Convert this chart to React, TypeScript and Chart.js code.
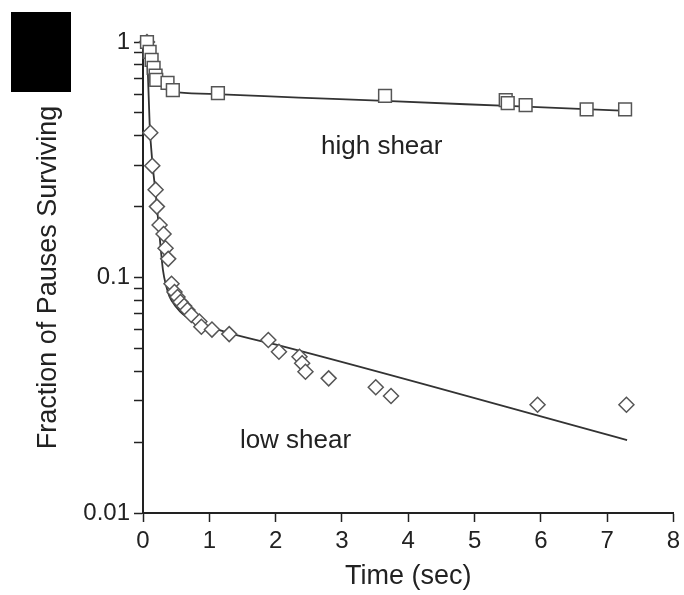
import React, { useEffect, useRef } from "react";
import { Chart, registerables } from "chart.js";

Chart.register(...registerables);

// ---- data ----
const highShearTime = [0.06, 0.1, 0.13, 0.16, 0.19, 0.2, 0.37, 0.45, 1.13, 3.65, 5.47, 5.5, 5.77, 6.69, 7.27];
const highShearFraction = [1.0, 0.907, 0.84, 0.776, 0.72, 0.69, 0.67, 0.625, 0.607, 0.59, 0.567, 0.55, 0.54, 0.518, 0.518];

const lowShearTime = [
  0.06, 0.11, 0.14, 0.19, 0.21, 0.25, 0.31, 0.34, 0.38, 0.43, 0.475, 0.52, 0.565, 0.62, 0.67,
  0.73, 0.85, 0.88, 1.04, 1.3, 1.89, 2.05, 2.36, 2.4, 2.45, 2.8, 3.51, 3.74, 5.95, 7.29,
];
const lowShearFraction = [
  1.0, 0.412, 0.298, 0.236, 0.2, 0.167, 0.153, 0.133, 0.12, 0.094, 0.0868, 0.0826, 0.0787, 0.0757, 0.0728,
  0.0693, 0.065, 0.0618, 0.0601, 0.0575, 0.0543, 0.0484, 0.0461, 0.0432, 0.0398, 0.0373, 0.0342, 0.0314, 0.0288, 0.0288,
];

const highFitTime = [0.06, 0.1, 0.15, 0.2, 0.3, 0.45, 1.0, 2.35, 3.65, 5.5, 7.3];
const highFitFraction = [1.0, 0.88, 0.76, 0.69, 0.64, 0.615, 0.602, 0.581, 0.562, 0.535, 0.51];

const lowFitTime = [0.06, 0.1, 0.145, 0.19, 0.25, 0.3, 0.35, 0.4, 0.5, 0.6, 0.8, 1.0, 1.3, 2.05, 7.3];
const lowFitFraction = [0.97, 0.45, 0.3, 0.23, 0.15, 0.108, 0.092, 0.083, 0.075, 0.07, 0.065, 0.062, 0.058, 0.0515, 0.0204];

const xTicks = [0, 1, 2, 3, 4, 5, 6, 7, 8];
const yMajorTicks = [0.01, 0.1, 1];
const yMinorTicks = [0.02, 0.03, 0.04, 0.05, 0.06, 0.07, 0.08, 0.09, 0.2, 0.3, 0.4, 0.5, 0.6, 0.7, 0.8, 0.9];

const labelTexts = ["high shear", "low shear"];
const labelTimes = [3.6, 2.3];
const labelFractions = [0.36, 0.0202];

const FONT = '"Liberation Sans", Arial, Helvetica, sans-serif';
const INK = "#222";

const shearLabels = {
  id: "shearLabels",
  afterDatasetsDraw(chart: any) {
    const { ctx, scales } = chart;
    ctx.save();
    ctx.font = `26px ${FONT}`;
    ctx.fillStyle = INK;
    ctx.textAlign = "center";
    ctx.textBaseline = "middle";
    labelTexts.forEach((t, i) => {
      ctx.fillText(t, scales.x.getPixelForValue(labelTimes[i]), scales.y.getPixelForValue(labelFractions[i]));
    });
    ctx.restore();
  },
};

export default function App() {
  const canvasRef = useRef<HTMLCanvasElement | null>(null);

  useEffect(() => {
    if (!canvasRef.current) return;
    const toPts = (xs: number[], ys: number[]) => xs.map((x, i) => ({ x, y: ys[i] }));
    const yTicksAll = [...yMajorTicks, ...yMinorTicks].sort((a, b) => a - b);

    const chart = new Chart(canvasRef.current, {
      type: "scatter",
      data: {
        datasets: [
          {
            label: "high shear",
            data: toPts(highShearTime, highShearFraction),
            pointStyle: "rect",
            pointRadius: 9,
            pointBackgroundColor: "#fff",
            pointBorderColor: "#555",
            pointBorderWidth: 1.5,
            showLine: false,
            clip: false,
            order: 0,
          } as any,
          {
            label: "low shear",
            data: toPts(lowShearTime, lowShearFraction),
            pointStyle: "rectRot",
            pointRadius: 7.5,
            pointBackgroundColor: "#fff",
            pointBorderColor: "#555",
            pointBorderWidth: 1.5,
            showLine: false,
            clip: false,
            order: 0,
          } as any,
          {
            label: "high shear fit",
            data: toPts(highFitTime, highFitFraction),
            showLine: true,
            pointRadius: 0,
            borderColor: "#333",
            borderWidth: 1.8,
            cubicInterpolationMode: "monotone",
            fill: false,
            clip: false,
            order: 1,
          } as any,
          {
            label: "low shear fit",
            data: toPts(lowFitTime, lowFitFraction),
            showLine: true,
            pointRadius: 0,
            borderColor: "#333",
            borderWidth: 1.8,
            cubicInterpolationMode: "monotone",
            fill: false,
            clip: false,
            order: 1,
          } as any,
        ],
      },
      options: {
        animation: false,
        responsive: false,
        devicePixelRatio: 1,
        layout: { padding: { left: 0, right: 7, top: 42, bottom: 0 } },
        plugins: { legend: { display: false }, tooltip: { enabled: false } },
        scales: {
          x: {
            type: "linear",
            min: 0,
            max: 8,
            afterBuildTicks: (s: any) => {
              s.ticks = xTicks.map((v) => ({ value: v }));
            },
            afterFit: (s: any) => {
              s.height = 82;
              s.paddingLeft = 0;
              s.paddingRight = 0;
            },
            grid: { drawOnChartArea: false, drawTicks: true, tickLength: 9, tickColor: INK, tickWidth: 1.5 },
            border: { display: true, color: INK, width: 2 },
            ticks: { padding: 5, color: INK, font: { family: FONT, size: 24 }, autoSkip: false, maxRotation: 0 },
            title: {
              display: true,
              text: "Time (sec)",
              color: INK,
              font: { family: FONT, size: 27 },
              padding: { top: 0, bottom: 2 },
            },
          },
          y: {
            type: "logarithmic",
            min: 0.01,
            max: 1,
            afterBuildTicks: (s: any) => {
              s.ticks = yTicksAll.map((v) => ({ value: v }));
            },
            afterFit: (s: any) => {
              s.width = 143;
              s.paddingTop = 0;
              s.paddingBottom = 0;
            },
            grid: { drawOnChartArea: false, drawTicks: true, tickLength: 9, tickColor: INK, tickWidth: 1.5 },
            border: { display: true, color: INK, width: 2 },
            ticks: {
              padding: 4,
              color: INK,
              font: { family: FONT, size: 24 },
              autoSkip: false,
              callback: (v: any) => (yMajorTicks.includes(Number(v)) ? String(v) : ""),
            },
            title: {
              display: true,
              text: "Fraction of Pauses Surviving",
              color: INK,
              font: { family: FONT, size: 27 },
              padding: { top: 32, bottom: 0 },
            },
          },
        },
      } as any,
      plugins: [shearLabels],
    });

    return () => chart.destroy();
  }, []);

  return (
    <div style={{ position: "absolute", left: 0, top: 0, width: 684, height: 595, background: "#fff" }}>
      <div style={{ position: "absolute", left: 11, top: 12, width: 60, height: 80, background: "#000" }} />
      <canvas ref={canvasRef} width={684} height={595} style={{ display: "block", width: 684, height: 595 }} />
    </div>
  );
}
